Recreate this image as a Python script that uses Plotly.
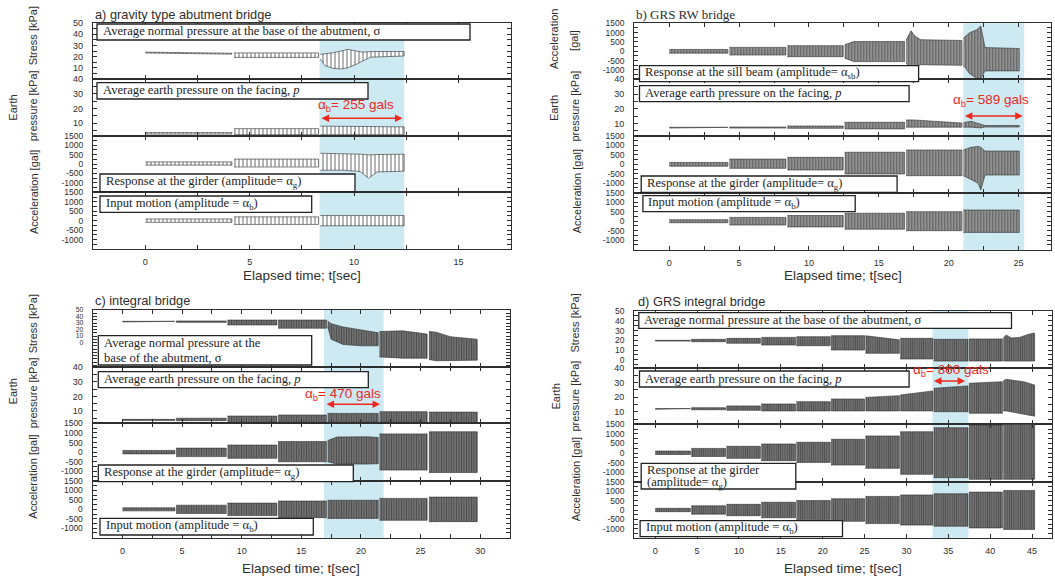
import plotly.graph_objects as go

N = None
# ---------------- data ----------------
# Signals are given as envelopes: time knots [s], upper and lower envelope values.
# None separates the successive loading stages.

# a) gravity type abutment bridge
A_STRESS_T  = [0, 4.15, N, 4.25, 8.3, N, 8.38, 8.6, 9.0, 9.4, 9.7, 10.1, 10.4, 10.8, 12.4]
A_STRESS_HI = [24.0, 23.0, N, 23.3, 23.3, N, 22.0, 22.5, 23.5, 25.0, 26.5, 25.0, 24.0, 24.5, 24.5]
A_STRESS_LO = [23.2, 22.2, N, 19.3, 19.3, N, 18.0, 12.0, 9.5, 9.0, 10.0, 13.0, 16.0, 19.5, 20.5]
A_PRESS_T   = [0, 4.15, N, 4.25, 8.3, N, 8.38, 12.4]
A_PRESS_HI  = [3.6, 3.6, N, 6.3, 6.3, N, 8.0, 7.5]
A_PRESS_LO  = [2.6, 2.6, N, 2.2, 2.2, N, 2.2, 2.2]
A_GIRDER_T  = [0, 4.15, N, 4.25, 8.3, N, 8.38, 9.5, 10.3, 10.7, 11.1, 12.4]
A_GIRDER_HI = [110, 110, N, 260, 260, N, 570, 560, 520, 480, 500, 520]
A_GIRDER_LO = [-60, -60, N, -160, -160, N, -330, -330, -400, -760, -420, -380]
A_INPUT_T   = [0, 4.15, N, 4.25, 8.3, N, 8.38, 12.4]
A_INPUT_HI  = [90, 90, N, 200, 200, N, 270, 270]
A_INPUT_LO  = [-90, -90, N, -200, -200, N, -270, -270]

# b) GRS RW bridge
B_T0 = [0, 4.3, 8.45, 12.55, 16.95, 21.05]
B_T1 = [4.2, 8.35, 12.45, 16.85, 20.95, 25.05]
B_SILL_T  = [0, 4.2, N, 4.3, 8.35, N, 8.45, 12.45, N, 12.55, 13.2, 16.85, N,
             16.95, 17.3, 17.6, 18.0, 20.95, N, 21.05, 21.5, 22.0, 22.3, 22.6, 25.05]
B_SILL_HI = [100, 100, N, 210, 210, N, 300, 300, N, 350, 520, 520, N,
             600, 1100, 800, 620, 580, N, 700, 1000, 1150, 1350, 200, 150]
B_SILL_LO = [-100, -100, N, -200, -200, N, -290, -290, N, -370, -550, -550, N,
             -650, -900, -800, -720, -750, N, -750, -1200, -1450, -1450, -1050, -1050]
B_PRESS_T  = [0, 4.2, N, 4.3, 8.35, N, 8.45, 12.45, N, 12.55, 16.85, N,
              16.95, 17.5, 20.95, N, 21.05, 21.6, 22.3, 22.6, 25.05]
B_PRESS_HI = [7.4, 7.4, N, 7.6, 7.6, N, 8.3, 8.3, N, 10.8, 10.8, N,
              12.4, 12.4, 10.3, N, 10.5, 11.5, 9.5, 8.6, 8.6]
B_PRESS_LO = [6.9, 6.9, N, 6.9, 6.9, N, 6.7, 6.7, N, 6.3, 6.3, N,
              7.5, 7.5, 7.5, N, 7.5, 7.5, 7.0, 7.6, 7.6]
B_GIRDER_T  = [0, 4.2, N, 4.3, 8.35, N, 8.45, 12.45, N, 12.55, 16.85, N,
               16.95, 20.95, N, 21.05, 21.6, 22.1, 22.3, 22.6, 25.05]
B_GIRDER_HI = [100, 100, N, 280, 280, N, 370, 370, N, 640, 640, N,
               760, 760, N, 760, 900, 950, 900, 705, 705]
B_GIRDER_LO = [-100, -100, N, -210, -210, N, -300, -300, N, -510, -510, N,
               -600, -600, N, -600, -800, -1000, -1360, -565, -565]
B_INPUT_HI = [80, 200, 300, 420, 500, 589]
B_INPUT_LO = [-80, -200, -300, -420, -500, -589]

# c) integral bridge
C_T0 = [0, 4.5, 8.8, 13.05, 17.2, 21.55, 25.7]
C_T1 = [4.4, 8.7, 12.95, 17.1, 21.45, 25.55, 29.75]
C_STRESS_T  = [0, 4.4, N, 4.5, 8.7, N, 8.8, 12.95, N, 13.05, 17.1, N,
               17.2, 17.5, 18.5, 20.0, 21.45, N, 21.55, 23.5, 25.55, N, 25.7, 26.3, 27.5, 29.75]
C_STRESS_HI = [32.6, 32.6, N, 33.2, 33.2, N, 34.5, 34.5, N, 34.6, 34.6, N,
               33, 29, 24, 19, 15, N, 17, 18, 13, N, 17, 16, 9, 5]
C_STRESS_LO = [31.6, 31.6, N, 31, 31, N, 27, 27, N, 22, 22, N,
               25, 5, -3, -5, -5, N, -22, -24, -24, N, -26, -28, -28, -27]
C_PRESS_HI = [4.2, 5.0, 6.5, 7.2, 8.3, 9.5, 9.2]
C_PRESS_LO = [3.5, 3.3, 2.6, 2.6, 2.6, 2.2, 2.0]
C_GIRDER_T  = [0, 4.4, N, 4.5, 8.7, N, 8.8, 12.95, N, 13.05, 17.1, N,
               17.2, 18.0, 20.5, 21.45, N, 21.55, 25.55, N, 25.7, 29.75]
C_GIRDER_HI = [90, 90, N, 210, 210, N, 370, 370, N, 550, 550, N,
               600, 790, 800, 760, N, 950, 950, N, 1060, 1060]
C_GIRDER_LO = [-90, -90, N, -230, -230, N, -320, -320, N, -500, -500, N,
               -500, -620, -620, -600, N, -930, -930, N, -1060, -1060]
C_INPUT_HI = [80, 220, 330, 440, 480, 580, 650]
C_INPUT_LO = [-80, -220, -330, -440, -480, -580, -650]

# d) GRS integral bridge
D_T0 = [0, 4.3, 8.5, 12.65, 16.85, 21.0, 25.1, 29.25, 33.25, 37.45, 41.55]
D_T1 = [4.2, 8.4, 12.55, 16.75, 20.9, 25.0, 29.15, 33.15, 37.35, 41.45, 45.3]
D_STRESS_T  = [0, 4.2, N, 4.3, 8.4, N, 8.5, 12.55, N, 12.65, 16.75, N, 16.85, 20.9, N,
               21.0, 25.0, N, 25.1, 29.15, N, 29.25, 33.15, N, 33.25, 37.35, N, 37.45, 41.45, N,
               41.55, 41.9, 42.5, 43.5, 44.5, 45.3]
D_STRESS_HI = [20, 20, N, 21, 21, N, 22, 22, N, 23, 23, N, 23.7, 23.7, N,
               24.7, 24.7, N, 24.7, 20.5, N, 22, 22, N, 21, 21, N, 21.4, 21.4, N,
               22, 25.5, 22.5, 23, 26, 27.5]
D_STRESS_LO = [19.2, 19.2, N, 18.6, 18.6, N, 17, 17, N, 15.2, 15.2, N, 14.5, 14.5, N,
               10.1, 10.1, N, 6.7, 6.7, N, 0.9, 0.9, N, -1.2, -1.2, N, -1.2, -1.2, N,
               -1.2, -1.2, -1.2, -1.2, -1.2, -1.2]
D_PRESS_T  = [0, 4.2, N, 4.3, 8.4, N, 8.5, 12.55, N, 12.65, 16.75, N, 16.85, 20.9, N,
              21.0, 25.0, N, 25.1, 29.15, N, 29.25, 33.15, N, 33.25, 37.35, N, 37.45, 41.45, N,
              41.55, 41.9, 44.0, 45.3]
D_PRESS_HI = [12.2, 12.2, N, 12.8, 12.8, N, 14, 14, N, 15.3, 15.3, N, 16.9, 16.9, N,
              18.7, 18.7, N, 19.8, 21, N, 21.4, 24.2, N, 26, 27.6, N, 29.4, 30.5, N,
              31, 32.1, 30.5, 28.2]
D_PRESS_LO = [11.7, 11.7, N, 11.4, 11.4, N, 11, 11, N, 10.6, 10.6, N, 10.6, 10.6, N,
              10.6, 10.6, N, 10.6, 10.6, N, 10.6, 10.6, N, 10.1, 10.1, N, 9, 9, N,
              10.6, 10.6, 8.5, 7.0]
D_GIRDER_HI = [100, 240, 350, 470, 560, 715, 890, 1110, 1320, 1465, 1500]
D_GIRDER_LO = [-80, -180, -280, -400, -490, -630, -800, -1115, -1290, -1375, -1375]
D_INPUT_HI = [90, 220, 300, 410, 500, 600, 720, 800, 860, 950, 1030]
D_INPUT_LO = [-90, -220, -300, -410, -500, -600, -720, -800, -860, -950, -1030]

# shaded interval and input amplitude label for each panel
SHADE = {'a': (8.35, 12.4), 'b': (21.05, 25.4), 'c': (16.9, 21.9), 'd': (33.1, 37.4)}
AMP_LABEL = {'a': 255, 'b': 589, 'c': 470, 'd': 860}

# ---------------- helpers ----------------
W, H = 1055, 579
SANS = 'Liberation Sans, Arial, sans-serif'
SERIF = 'Liberation Serif, Times New Roman, serif'
INK = '#2e2e2e'
RED = '#f0281e'
BLUE = 'rgb(205,233,242)'


def stage_knots(t0s, t1s, his, los):
    t, hi, lo = [], [], []
    for a, b, h, l in zip(t0s, t1s, his, los):
        if t:
            t.append(None); hi.append(None); lo.append(None)
        t += [a, b]; hi += [h, h]; lo += [l, l]
    return t, hi, lo


def band_xy(t, hi, lo):
    xs, ys, seg = [], [], []
    for item in list(zip(t, hi, lo)) + [(None, None, None)]:
        if item[0] is None:
            if seg:
                xs += [s[0] for s in seg] + [s[0] for s in seg[::-1]] + [None]
                ys += [s[1] for s in seg] + [s[2] for s in seg[::-1]] + [None]
            seg = []
        else:
            seg.append(item)
    return xs, ys


def steps(lo, hi, step):
    out, v = [], lo
    while v <= hi + 1e-9:
        out.append(round(v, 6))
        v += step
    return out


STRESS_A = dict(range=[0, 50], labs=[10, 20, 30, 40, 50], minor=steps(0, 50, 5), fs=9)
STRESS_C = dict(range=[-38, 50], labs=[0, 10, 20, 30, 40, 50], minor=steps(-35, 50, 5), fs=6.8)
STRESS_D = dict(range=[-8, 50], labs=[0, 10, 20, 30, 40, 50], minor=steps(-5, 50, 5), fs=8.5)
PRESS = dict(range=[1.5, 40], labs=[10, 20, 30, 40], minor=steps(5, 40, 5), fs=9)
ACC = dict(range=[-1500, 1500], labs=[-1000, -500, 0, 500, 1000, 1500],
           minor=steps(-1500, 1500, 250), fs=8.5)

PANELS = [
    dict(key='a', x=(93, 510.7), rows=[(23, 79), (79, 135.7), (135.7, 192.3), (192.3, 249)],
         xr=[-2.5, 17.5], xstep=2.5,
         pat=dict(shape='|', fgcolor='#2a2a2a', bgcolor='#ffffff', size=4, solidity=0.35),
         series=[(A_STRESS_T, A_STRESS_HI, A_STRESS_LO, STRESS_A),
                 (A_PRESS_T, A_PRESS_HI, A_PRESS_LO, PRESS),
                 (A_GIRDER_T, A_GIRDER_HI, A_GIRDER_LO, ACC),
                 (A_INPUT_T, A_INPUT_HI, A_INPUT_LO, ACC)]),
    dict(key='b', x=(634.3, 1050.7), rows=[(23.3, 79.3), (79.3, 136), (136, 192.7), (192.7, 249.7)],
         xr=[-2.5, 27.3], xstep=2.5,
         pat=dict(shape='|', fgcolor='#1e1e1e', bgcolor='#9c9c9c', size=3, solidity=0.45),
         series=[(B_SILL_T, B_SILL_HI, B_SILL_LO, ACC),
                 (B_PRESS_T, B_PRESS_HI, B_PRESS_LO, PRESS),
                 (B_GIRDER_T, B_GIRDER_HI, B_GIRDER_LO, ACC),
                 (*stage_knots(B_T0, B_T1, B_INPUT_HI, B_INPUT_LO), ACC)]),
    dict(key='c', x=(92.7, 510), rows=[(310, 367.3), (367.3, 423.3), (423.3, 481), (481, 537.7)],
         xr=[-2.5, 32.5], xstep=2.5,
         pat=dict(shape='|', fgcolor='#1a1a1a', bgcolor='#808080', size=2.5, solidity=0.55),
         series=[(C_STRESS_T, C_STRESS_HI, C_STRESS_LO, STRESS_C),
                 (*stage_knots(C_T0, C_T1, C_PRESS_HI, C_PRESS_LO), PRESS),
                 (C_GIRDER_T, C_GIRDER_HI, C_GIRDER_LO, ACC),
                 (*stage_knots(C_T0, C_T1, C_INPUT_HI, C_INPUT_LO), ACC)]),
    dict(key='d', x=(634.3, 1052.2), rows=[(311, 367.7), (367.7, 424.3), (424.3, 481.7), (481.7, 538.3)],
         xr=[-2.5, 47.4], xstep=5,
         pat=dict(shape='|', fgcolor='#1a1a1a', bgcolor='#808080', size=2.2, solidity=0.55),
         series=[(D_STRESS_T, D_STRESS_HI, D_STRESS_LO, STRESS_D),
                 (D_PRESS_T, D_PRESS_HI, D_PRESS_LO, PRESS),
                 (*stage_knots(D_T0, D_T1, D_GIRDER_HI, D_GIRDER_LO), ACC),
                 (*stage_knots(D_T0, D_T1, D_INPUT_HI, D_INPUT_LO), ACC)]),
]

fig = go.Figure()
layout = dict(width=W, height=H, margin=dict(l=0, r=0, t=0, b=0, autoexpand=False),
              paper_bgcolor='white', plot_bgcolor='rgba(0,0,0,0)', showlegend=False)
shapes, annotations = [], []
panel_axes = {}

AX_COMMON = dict(showline=True, mirror='ticks', linecolor=INK, linewidth=1.3,
                 ticks='inside', ticklen=4, tickwidth=1, tickcolor=INK,
                 showgrid=False, zeroline=False)

idx = 0
for p in PANELS:
    x0, x1 = p['x']
    refs = []
    for r, ((ya, yb), (t, hi, lo, yspec)) in enumerate(zip(p['rows'], p['series'])):
        idx += 1
        xn = 'x' if idx == 1 else f'x{idx}'
        yn = 'y' if idx == 1 else f'y{idx}'
        refs.append((xn, yn))
        bottom = r == 3
        xall = steps(0, p['xr'][1], p['xstep'])
        xmaj = [v for v in xall if abs(v % 5) < 1e-9]
        layout['xaxis' + ('' if idx == 1 else str(idx))] = dict(
            AX_COMMON, domain=[x0 / W, x1 / W], range=p['xr'], anchor=yn,
            tickmode='array', tickvals=xmaj, ticktext=[f'{v:g}' for v in xmaj],
            showticklabels=bottom,
            minor=dict(tickmode='array', tickvals=xall, ticks='inside', ticklen=4,
                       tickcolor=INK, tickwidth=1, showgrid=False),
            tickfont=dict(family=SANS, size=9, color=INK), ticklabelstandoff=4)
        layout['yaxis' + ('' if idx == 1 else str(idx))] = dict(
            AX_COMMON, domain=[1 - yb / H, 1 - ya / H], range=yspec['range'], anchor=xn,
            tickmode='array', tickvals=yspec['labs'], ticktext=[f'{v:g}' for v in yspec['labs']],
            minor=dict(tickmode='array', tickvals=yspec['minor'], ticks='inside', ticklen=4,
                       tickcolor=INK, tickwidth=1, showgrid=False),
            tickfont=dict(family=SANS, size=yspec['fs'], color=INK), ticklabelstandoff=7)
        bx, by = band_xy(t, hi, lo)
        fig.add_trace(go.Scatter(x=bx, y=by, xaxis=xn, yaxis=yn, mode='lines', fill='toself',
                                 fillcolor=p['pat']['bgcolor'], fillpattern=p['pat'],
                                 line=dict(color='#303030', width=0.6),
                                 hoverinfo='skip', showlegend=False))
    panel_axes[p['key']] = refs
    s0, s1 = SHADE[p['key']]
    shapes.append(dict(type='rect', xref=refs[0][0], yref='paper', x0=s0, x1=s1,
                       y0=1 - p['rows'][3][1] / H, y1=1 - p['rows'][0][0] / H,
                       fillcolor=BLUE, line=dict(width=0), layer='below'))

# ---- red arrows with the input amplitude ----
ARROWS = {'a': (8.37, 12.32, 13.3, 10.07, 21.9),
          'b': (21.05, 25.3, 15.1, 23.05, 25.9),
          'c': (16.99, 21.6, 14.6, 18.46, 21.6),
          'd': (33.1, 37.0, 31.0, 35.3, 37.8)}
for k, (ta, tb, yv, tc, ytx) in ARROWS.items():
    xn, yn = panel_axes[k][1]
    annotations.append(dict(x=tb, y=yv, ax=ta, ay=yv, xref=xn, yref=yn, axref=xn, ayref=yn,
                            showarrow=True, arrowhead=2, arrowside='end+start', arrowsize=1,
                            arrowwidth=1.5, arrowcolor=RED, text=''))
    annotations.append(dict(x=tc, y=ytx, xref=xn, yref=yn, showarrow=False,
                            text=f'α<sub>b</sub>= {AMP_LABEL[k]} gals',
                            font=dict(family=SANS, size=13.5, color=RED)))

# ---- legend boxes (frame as a shape, one annotation per text line) ----
BOXES = [
    (97, 470, 24, 40, ['Average normal pressure at the base of the abutment, σ']),
    (97, 368, 82.7, 99, ['Average earth pressure on the facing, <i>p</i>']),
    (100, 355, 174, 191.7, ['Response at the girder (amplitude= α<sub>g</sub>)']),
    (100, 311.7, 196, 212.3, ['Input motion (amplitude = α<sub>b</sub>)']),
    (639.5, 918.6, 65.7, 81.7, ['Response at the sill beam (amplitude= α<sub>sb</sub>)']),
    (639.5, 909.1, 85.7, 101.7, ['Average earth pressure on the facing, <i>p</i>']),
    (641.2, 897.1, 176, 192.3, ['Response at the girder (amplitude= α<sub>g</sub>)']),
    (642.9, 855.2, 195.7, 211.7, ['Input motion (amplitude = α<sub>b</sub>)']),
    (98.3, 311.7, 335.7, 365, ['Average normal pressure at the', 'base of the abutment, σ']),
    (98.3, 368.3, 371.7, 387.7, ['Average earth pressure on the facing, <i>p</i>']),
    (98.3, 353.3, 465, 481.7, ['Response at the girder (amplitude= α<sub>g</sub>)']),
    (100, 313.3, 518.3, 535, ['Input motion (amplitude = α<sub>b</sub>)']),
    (638.8, 1011.5, 312.7, 328.3, ['Average normal pressure at the base of the abutment, σ']),
    (639.5, 909.1, 371, 387, ['Average earth pressure on the facing, <i>p</i>']),
    (641.2, 795.8, 463.3, 489, ['Response at the girder', '(amplitude= α<sub>g</sub>)']),
    (640.1, 842.5, 520.7, 536.7, ['Input motion (amplitude = α<sub>b</sub>)']),
]
for bx0, bx1, by0, by1, lines in BOXES:
    shapes.append(dict(type='rect', xref='paper', yref='paper', x0=bx0 / W, x1=bx1 / W,
                       y0=1 - by1 / H, y1=1 - by0 / H, fillcolor='white',
                       line=dict(color='#222', width=1.3), layer='above'))
    nl = len(lines)
    for i, txt in enumerate(lines):
        yc = by0 + (by1 - by0) * (i + 0.5) / nl - (0.5 if nl == 1 else 0)
        annotations.append(dict(xref='paper', yref='paper', x=(bx0 + 3.5) / W, y=1 - yc / H,
                                xanchor='left', yanchor='middle', showarrow=False, text=txt,
                                font=dict(family=SERIF, size=12.6, color='#1e1e1e')))

# ---- axis titles, panel titles ----
YTITLES = [
    ('Stress [kPa]', 33.3, 36), ('Earth', 12.7, 108), ('pressure [kPa]', 33.3, 106),
    ('Acceleration [gal]', 33.3, 191.7),
    ('Acceleration', 554.1, 39), ('[gal]', 573.9, 40), ('Earth', 554.1, 108),
    ('pressure [kPa]', 574.6, 106), ('Acceleration [gal]', 577.3, 191),
    ('Stress [kPa]', 33.3, 324), ('Earth', 12.7, 391.7), ('pressure [kPa]', 33.3, 393),
    ('Acceleration [gal]', 32.7, 477),
    ('Stress [kPa]', 574.6, 323), ('Earth', 555.8, 396.7), ('pressure [kPa]', 574.6, 396),
    ('Acceleration [gal]', 576.3, 479),
]
for txt, px, py in YTITLES:
    annotations.append(dict(xref='paper', yref='paper', x=px / W, y=1 - py / H, text=txt,
                            textangle=-90, showarrow=False, xanchor='center', yanchor='middle',
                            font=dict(family=SANS, size=11, color=INK)))

TITLES = [
    ('a) gravity type abutment bridge', 92.7, 14, SANS, 12.8),
    ('b) GRS RW bridge', 634.3, 15, SERIF, 13),
    ('c) integral bridge', 93.3, 300.7, SANS, 12.8),
    ('d) GRS integral bridge', 636, 301.7, SANS, 12.8),
]
for txt, px, py, fam, fs in TITLES:
    annotations.append(dict(xref='paper', yref='paper', x=px / W, y=1 - py / H,
                            text=txt, showarrow=False, xanchor='left', yanchor='middle',
                            font=dict(family=fam, size=fs, color=INK)))

for p, py in zip(PANELS, [275, 275, 568.3, 568.3]):
    cx = (p['x'][0] + p['x'][1]) / 2
    annotations.append(dict(xref='paper', yref='paper', x=cx / W, y=1 - py / H,
                            text='Elapsed time; t[sec]', showarrow=False,
                            xanchor='center', yanchor='middle',
                            font=dict(family=SANS, size=13.5, color=INK)))

layout['shapes'] = shapes
layout['annotations'] = annotations
fig.update_layout(**layout)
fig.write_html('out.html', config={'displayModeBar': False},
               post_script="document.body.style.margin='0';")
